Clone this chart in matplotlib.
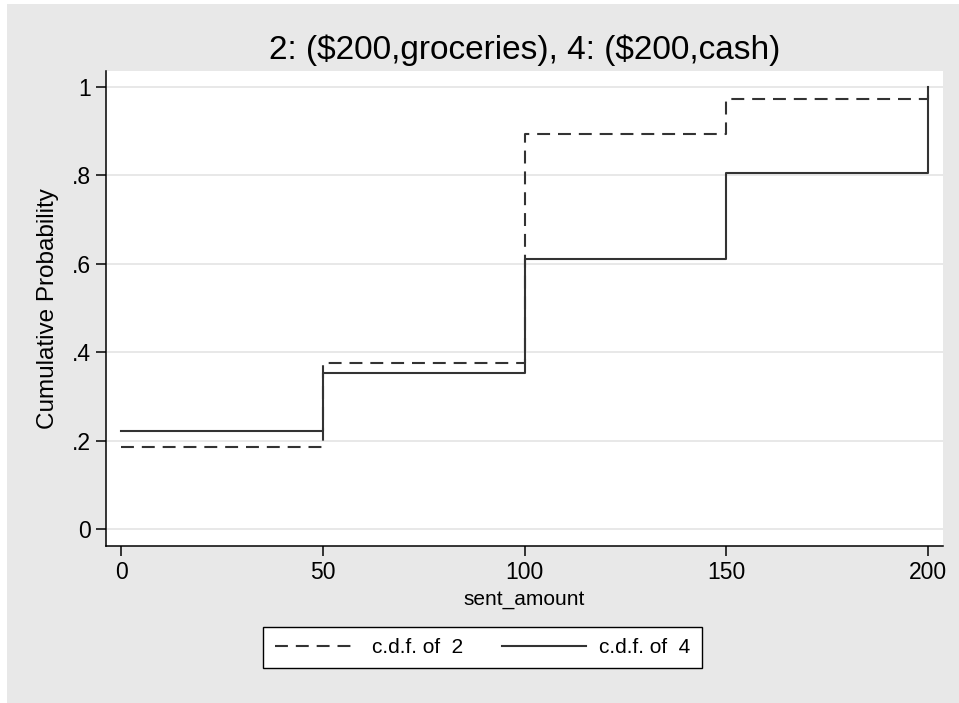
import matplotlib
matplotlib.use("Agg")
import matplotlib.pyplot as plt
from matplotlib.patches import Rectangle

plt.rcParams['font.family'] = ['Liberation Sans', 'DejaVu Sans']

sent_amount = [0, 50, 100, 150, 200]
cdf_2 = [0.186, 0.377, 0.893, 0.973, 1.0]
cdf_4 = [0.223, 0.353, 0.612, 0.806, 1.0]
yticks = [0, 0.2, 0.4, 0.6, 0.8, 1.0]
ytick_labels = ['0', '.2', '.4', '.6', '.8', '1']
xticks = [0, 50, 100, 150, 200]
title = r"2: (\$200,groceries), 4: (\$200,cash)"
labels = ["c.d.f. of  2", "c.d.f. of  4"]

fig = plt.figure(figsize=(9.59, 7.03), dpi=100, facecolor='white')
fig.patches.append(Rectangle((7/959, 0), 1 - 7/959, 1 - 4/703, transform=fig.transFigure,
                             facecolor='#e8e8e8', edgecolor='none', zorder=-10))

ax = fig.add_axes([106/959, 1 - 546/703, (943-106)/959, (546-71)/703])
ax.set_facecolor('white')

line_col = '#333333'
ax.plot(sent_amount, cdf_2, drawstyle='steps-post', color=line_col, lw=1.5,
        dashes=(6.2, 3.8), label=labels[0], zorder=3)
ax.plot(sent_amount, cdf_4, drawstyle='steps-post', color=line_col, lw=1.5,
        label=labels[1], zorder=4)

ax.set_xlim(-3.72, 203.7)
ax.set_ylim(-0.0373, 1.036)
ax.set_yticks(yticks)
ax.set_yticklabels(ytick_labels)
ax.set_xticks(xticks)
ax.grid(axis='y', color='#e6e6e6', lw=1.3)
ax.set_axisbelow(True)
for s in ['top', 'right']:
    ax.spines[s].set_visible(False)
for s in ['left', 'bottom']:
    ax.spines[s].set_color('black')
    ax.spines[s].set_linewidth(1.1)
ax.tick_params(axis='both', direction='out', length=7, width=1.1, labelsize=16.5,
               colors='black', pad=4)

ax.set_xlabel('sent_amount', fontsize=15, labelpad=4)
ax.set_ylabel('Cumulative Probability', fontsize=17.5, labelpad=9)
ax.set_title(title, fontsize=24, pad=9)

leg = fig.legend(loc='center', bbox_to_anchor=(482.5/959, 1 - 647.5/703), ncol=2,
                 fontsize=15, frameon=True, fancybox=False, edgecolor='black',
                 facecolor='white', framealpha=1, handlelength=4.0,
                 handletextpad=0.65, columnspacing=1.9, borderpad=0.55)
leg.get_frame().set_linewidth(1.0)

fig.savefig('out.png', dpi=100, facecolor=fig.get_facecolor())
